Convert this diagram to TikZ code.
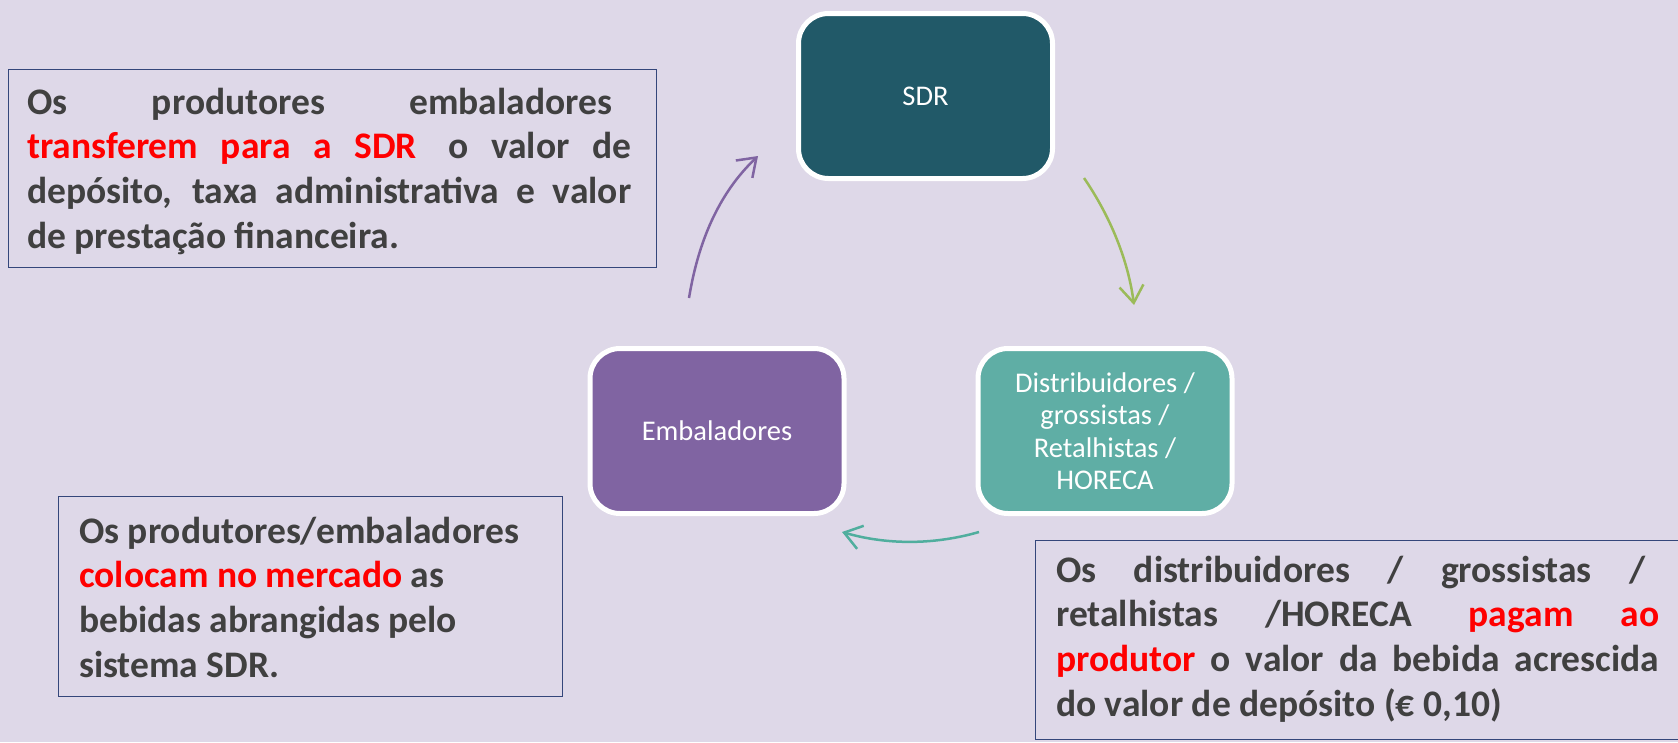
\documentclass[tikz,border=0pt]{standalone}
\usepackage{fontspec}
\setmainfont{Carlito}
\usetikzlibrary{arrows.meta}
\definecolor{bg}{RGB}{222,216,232}
\definecolor{sdrc}{RGB}{33,89,104}
\definecolor{embc}{RGB}{128,100,162}
\definecolor{distc}{RGB}{95,174,165}
\definecolor{txt}{RGB}{64,64,64}
\definecolor{navy}{RGB}{52,70,122}
\definecolor{arrg}{RGB}{155,187,89}
\definecolor{arrt}{RGB}{80,174,158}
\definecolor{redtxt}{RGB}{255,0,0}
\newcommand\redpart[1]{\textcolor{redtxt}{#1}}
\newcommand\jline[2]{\hbox to #1{\spaceskip=0.226em plus 1fil\relax #2}}
\newcommand\nline[1]{\hbox{\spaceskip=0.226em\relax #1}}
\begin{document}
\begin{tikzpicture}[x=1pt,y=-1pt,
  stage/.style={rounded corners=30pt, draw=white, line width=5pt,
    minimum width=254pt, minimum height=165pt, text=white, align=center,
    font=\fontsize{28.5}{32.5}\selectfont, inner sep=0pt},
  callout/.style={draw=navy, line width=1.3pt, inner sep=0pt},
  ctext/.style={anchor=base west, inner sep=0pt, text=txt,
    font=\fontsize{37.5}{44.7}\selectfont\bfseries},
  flow/.style={line width=2.5pt, -{Straight Barb[length=17pt,width=24pt]}}
]
\fill[bg] (0,0) rectangle (1678,742);
\useasboundingbox (0,0) rectangle (1678,742);

% callout boxes
\node[callout, minimum width=647.7pt, minimum height=197.7pt] (tlbox) at (332.5,168.5) {};
\node[callout, minimum width=503.7pt, minimum height=199.7pt] (blbox) at (310.5,596.5) {};
\node[callout, minimum width=653.7pt, minimum height=198.7pt] (brbox) at (1362.5,640) {};

% callout texts
\node[ctext, text width=604pt] (tltext) at (27,114) {%
\jline{585pt}{Os produtores embaladores}
\jline{604pt}{\redpart{transferem para a SDR}\hspace{9pt} o valor de}
\jline{604pt}{depósito, taxa administrativa e valor}
\nline{de prestação financeira.}};

\node[ctext, text width=470pt] (bltext) at (79,543) {%
\nline{Os produtores/embaladores}
\nline{\redpart{colocam no mercado} as}
\nline{bebidas abrangidas pelo}
\nline{sistema SDR.}};

\node[ctext, text width=603pt] (brtext) at (1056,582) {%
\jline{589pt}{Os distribuidores / grossistas /}
\jline{603pt}{retalhistas /HORECA\hspace{10pt} \redpart{pagam ao}}
\jline{603pt}{\redpart{produtor} o valor da bebida acrescida}
\nline{do valor de depósito (€ 0,10)}};

% stages
\node[stage, fill=sdrc] (sdr) at (925.5,96) {SDR};
\node[stage, fill=embc] (emb) at (717,431) {Embaladores};
\node[stage, fill=distc] (dist) at (1105,431) {Distribuidores /\\grossistas /\\Retalhistas /\\HORECA};

% arrow end points
\coordinate (p1) at (689,298);
\coordinate (p2) at (758,156);
\coordinate (g1) at (1084,178);
\coordinate (g2) at (1134,305);
\coordinate (t1) at (979,532);
\coordinate (t2) at (842,532);

\draw[flow, draw=embc] (p1) .. controls (698,243) and (718,194) .. (p2);
\draw[flow, draw=arrg] (g1) .. controls (1110,216) and (1128,259.5) .. (g2);
\draw[flow, draw=arrt] (t1) .. controls (934,545) and (887,545) .. (t2);
\end{tikzpicture}
\end{document}
